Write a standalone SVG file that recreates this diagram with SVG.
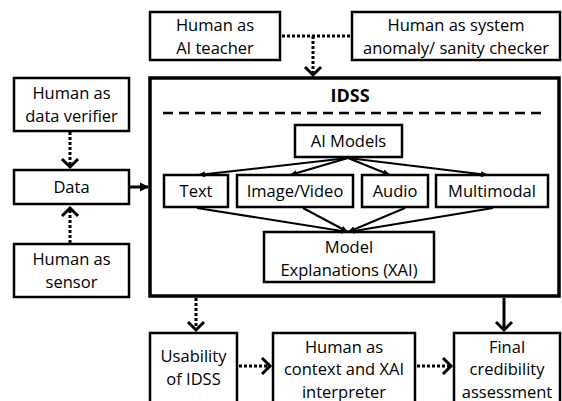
<svg xmlns="http://www.w3.org/2000/svg" width="562" height="401" viewBox="0 0 562 401">
  <defs>
    <style>
      .box { fill: #ffffff; stroke: #000000; stroke-width: 2.5; }
      .big { fill: none; stroke: #000000; stroke-width: 3.5; }
      .t { font-family: "Open Sans", "Liberation Sans", sans-serif; font-size: 16.5px; fill: #000000; text-anchor: middle; }
      .title { font-family: "Open Sans", "Liberation Sans", sans-serif; font-size: 18px; font-weight: bold; fill: #000000; text-anchor: middle; }
      .dot { fill: none; stroke: #000000; stroke-width: 3; stroke-dasharray: 3 2; }
      .solid { fill: none; stroke: #000000; stroke-width: 3; }
      .thin { fill: none; stroke: #000000; stroke-width: 2; }
      .dash { fill: none; stroke: #000000; stroke-width: 2.5; stroke-dasharray: 10 6; }
    </style>
    <marker id="chev" markerUnits="userSpaceOnUse" viewBox="-2 -2 14 20" refX="8" refY="8" markerWidth="14" markerHeight="20" orient="auto" overflow="visible">
      <path d="M0,0 L8,8 L0,16" fill="none" stroke="#000000" stroke-width="3" stroke-linejoin="miter"/>
    </marker>
    <marker id="tri" markerUnits="userSpaceOnUse" viewBox="0 0 9 9" refX="8" refY="4.5" markerWidth="9" markerHeight="9" orient="auto" overflow="visible">
      <path d="M0,0 L9,4.5 L0,9 z" fill="#000000"/>
    </marker>
    <marker id="tri-s" markerUnits="userSpaceOnUse" viewBox="0 0 7 6" refX="7" refY="3" markerWidth="7" markerHeight="6" orient="auto" overflow="visible">
      <path d="M0,0 L7,3 L0,6 z" fill="#000000"/>
    </marker>
  </defs>

  <rect width="562" height="401" fill="#ffffff"/>

  <g id="ai-teacher">
    <rect class="box" x="150" y="12" width="130" height="48"/>
    <text class="t" x="215" y="31">Human as</text>
    <text class="t" x="215" y="54">AI teacher</text>
  </g>

  <g id="anomaly-checker">
    <rect class="box" x="352" y="12" width="208" height="48"/>
    <text class="t" x="456" y="31">Human as system</text>
    <text class="t" x="456" y="54">anomaly/ sanity checker</text>
  </g>

  <g id="idss">
    <rect class="big" x="150" y="78" width="409" height="218"/>
    <text class="title" x="350" y="102">IDSS</text>
    <line class="dash" x1="163" y1="113" x2="546" y2="113"/>
  </g>

  <g id="ai-models">
    <rect class="box" x="295" y="125" width="107" height="32"/>
    <text class="t" x="348.5" y="146.5">AI Models</text>
  </g>

  <g id="text">
    <rect class="box" x="164" y="175" width="64" height="32"/>
    <text class="t" x="196" y="196.5">Text</text>
  </g>

  <g id="image-video">
    <rect class="box" x="237" y="175" width="116" height="32"/>
    <text class="t" x="295" y="196.5">Image/Video</text>
  </g>

  <g id="audio">
    <rect class="box" x="362" y="175" width="66" height="32"/>
    <text class="t" x="395" y="196.5">Audio</text>
  </g>

  <g id="multimodal">
    <rect class="box" x="436" y="175" width="112" height="32"/>
    <text class="t" x="492" y="196.5">Multimodal</text>
  </g>

  <g id="model-explanations">
    <rect class="box" x="264" y="232" width="170" height="50"/>
    <text class="t" x="349" y="252.5">Model</text>
    <text class="t" x="349" y="275.5">Explanations (XAI)</text>
  </g>

  <g id="data-verifier">
    <rect class="box" x="14" y="78" width="115" height="53"/>
    <text class="t" x="71.5" y="98.5">Human as</text>
    <text class="t" x="71.5" y="122">data verifier</text>
  </g>

  <g id="data">
    <rect class="box" x="14" y="170" width="115" height="34"/>
    <text class="t" x="71.5" y="192.5">Data</text>
  </g>

  <g id="sensor">
    <rect class="box" x="14" y="244" width="115" height="53"/>
    <text class="t" x="71.5" y="264.5">Human as</text>
    <text class="t" x="71.5" y="287.5">sensor</text>
  </g>

  <g id="usability">
    <rect class="box" x="150" y="333" width="87" height="80"/>
    <text class="t" x="193.5" y="362">Usability</text>
    <text class="t" x="193.5" y="385">of IDSS</text>
  </g>

  <g id="interpreter">
    <rect class="box" x="273" y="333" width="142" height="80"/>
    <text class="t" x="344" y="352.5">Human as</text>
    <text class="t" x="344" y="375">context and XAI</text>
    <text class="t" x="344" y="397.5">interpreter</text>
  </g>

  <g id="final">
    <rect class="box" x="454" y="333" width="106" height="80"/>
    <text class="t" x="507" y="352.5">Final</text>
    <text class="t" x="507" y="375">credibility</text>
    <text class="t" x="507" y="397.5">assessment</text>
  </g>

  <g id="connectors">
    <line class="dot" x1="282" y1="36" x2="351" y2="36"/>
    <line class="dot" x1="313" y1="36" x2="313" y2="75" marker-end="url(#chev)"/>
    <line class="dot" x1="70" y1="132" x2="70" y2="167" marker-end="url(#chev)"/>
    <line class="dot" x1="70" y1="243" x2="70" y2="208" marker-end="url(#chev)"/>
    <line class="solid" x1="130" y1="187" x2="148" y2="187" marker-end="url(#tri)"/>
    <line class="thin" x1="348" y1="158" x2="198" y2="175" marker-end="url(#tri-s)"/>
    <line class="thin" x1="348" y1="158" x2="290" y2="175" marker-end="url(#tri-s)"/>
    <line class="thin" x1="348" y1="158" x2="390" y2="175" marker-end="url(#tri-s)"/>
    <line class="thin" x1="348" y1="158" x2="488" y2="175" marker-end="url(#tri-s)"/>
    <line class="thin" x1="197" y1="208" x2="348" y2="232" marker-end="url(#tri-s)"/>
    <line class="thin" x1="303" y1="208" x2="348" y2="232" marker-end="url(#tri-s)"/>
    <line class="thin" x1="405" y1="208" x2="348" y2="232" marker-end="url(#tri-s)"/>
    <line class="thin" x1="493" y1="208" x2="348" y2="232" marker-end="url(#tri-s)"/>
    <line class="dot" x1="196" y1="298" x2="196" y2="330" marker-end="url(#chev)"/>
    <line class="solid" x1="504" y1="298" x2="504" y2="330" marker-end="url(#chev)"/>
    <line class="dot" x1="239" y1="366" x2="270" y2="366" marker-end="url(#chev)"/>
    <line class="dot" x1="417" y1="366" x2="451" y2="366" marker-end="url(#chev)"/>
  </g>
</svg>
